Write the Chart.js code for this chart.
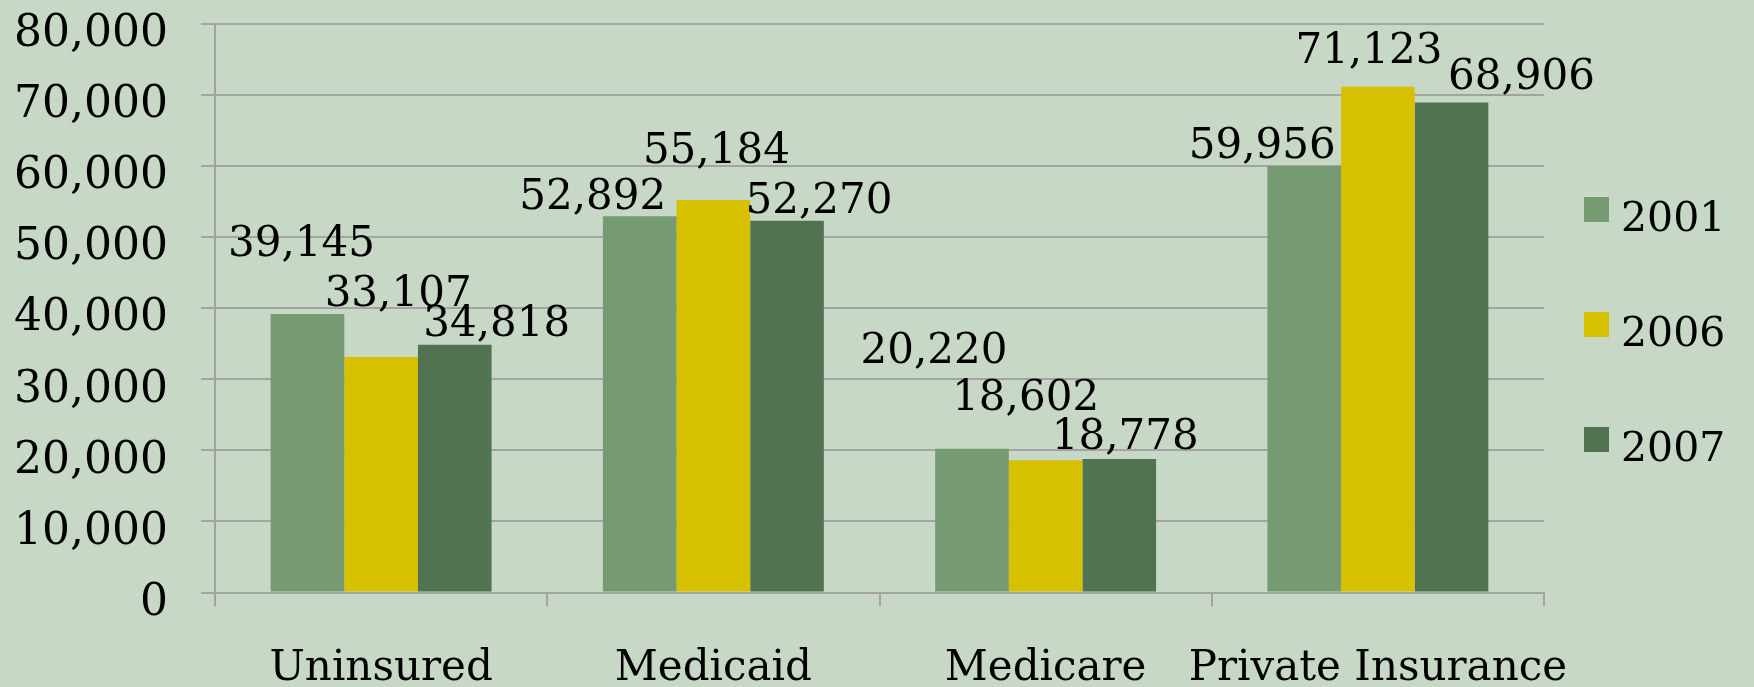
<!DOCTYPE html>
<html>
<head>
<meta charset="utf-8">
<script src="https://cdn.jsdelivr.net/npm/chart.js@4/dist/chart.umd.min.js"></script>
<style>
  html, body { margin: 0; padding: 0; background: #c7d9c6; }
  canvas { display: block; }
</style>
</head>
<body>
<canvas id="chart" width="1754" height="687"></canvas>
<script>
let categories = ['Uninsured', 'Medicaid', 'Medicare', 'Private Insurance'];
let years = ['2001', '2006', '2007'];
let values2001 = [39145, 52892, 20220, 59956];
let values2006 = [33107, 55184, 18602, 71123];
let values2007 = [34818, 52270, 18778, 68906];
let yTicks = [0, 10000, 20000, 30000, 40000, 50000, 60000, 70000, 80000];

let colors = ['#769b73', '#d6c000', '#517352'];
// hand-placed label nudges (dx, dy to baseline) like the original slide
let nudges = [
    [[-6, -58], [-47, -7], [-38, -86], [-42, -8]],
    [[17, -51], [3, -37], [-20, -50], [-9, -24]],
    [[42, -9], [32, -8], [6, -10], [70, -13]],
];

const font = 'DejaVu Serif';
const gridColor = '#a3a3a3';

let labelPlugin = {
    id: 'labels',
    beforeDraw(chart) {
        let c = chart.ctx;
        c.save();
        c.fillStyle = '#c7d9c6';
        c.fillRect(0, 0, chart.width, chart.height);
        c.restore();
    },
    afterDatasetsDraw(chart) {
        let c = chart.ctx;
        c.save();
        c.font = '42px "' + font + '"';
        c.fillStyle = '#000';
        c.textAlign = 'center';
        c.textBaseline = 'alphabetic';
        chart.data.datasets.forEach((ds, i) => {
            chart.getDatasetMeta(i).data.forEach((bar, j) => {
                let n = nudges[i][j];
                c.fillText(ds.data[j].toLocaleString('en-US'), bar.x + n[0], bar.y + n[1]);
            });
        });
        c.restore();
    },
    afterDraw(chart) {
        // legend on the right
        let c = chart.ctx;
        let x = chart.chartArea.right + 40;
        c.save();
        c.font = '41px "' + font + '"';
        c.textAlign = 'left';
        c.textBaseline = 'alphabetic';
        chart.data.datasets.forEach((ds, i) => {
            let top = 197 + i * 115;
            c.fillStyle = ds.backgroundColor;
            c.fillRect(x, top, 25, 25);
            c.fillStyle = '#000';
            c.fillText(ds.label, x + 37, top + 34);
        });
        c.restore();
    },
};

new Chart(document.getElementById('chart'), {
    type: 'bar',
    data: {
        labels: categories,
        datasets: [
            { label: years[0], data: values2001, backgroundColor: colors[0] },
            { label: years[1], data: values2006, backgroundColor: colors[1] },
            { label: years[2], data: values2007, backgroundColor: colors[2] },
        ],
    },
    options: {
        responsive: false,
        animation: false,
        devicePixelRatio: 1,
        categoryPercentage: 0.665,
        barPercentage: 1,
        layout: {
            padding: { top: 23.5, right: 210, bottom: 0, left: 0 },
        },
        scales: {
            x: {
                grid: {
                    offset: true,
                    drawOnChartArea: false,
                    tickLength: 14,
                    color: gridColor,
                    lineWidth: 2,
                },
                border: { color: gridColor, width: 2 },
                ticks: {
                    color: '#000',
                    padding: 37,
                    maxRotation: 0,
                    autoSkip: false,
                    font: { family: font, size: 42 },
                },
                afterFit(scale) {
                    scale.height = 94.5;
                    scale.paddingLeft = 0;
                    scale.paddingRight = 0;
                },
            },
            y: {
                min: 0,
                max: 80000,
                afterBuildTicks(scale) {
                    scale.ticks = yTicks.map(v => ({ value: v }));
                },
                grid: {
                    tickLength: 14,
                    color: gridColor,
                    lineWidth: 2,
                },
                border: { color: gridColor, width: 2 },
                ticks: {
                    color: '#000',
                    padding: 33,
                    labelOffset: 11,
                    font: { family: font, size: 44, lineHeight: 1 },
                    callback: v => v.toLocaleString('en-US'),
                },
                afterFit(scale) {
                    scale.width = 215;
                    scale.paddingTop = 0;
                    scale.paddingBottom = 0;
                },
            },
        },
        plugins: {
            legend: { display: false },
            tooltip: { enabled: false },
        },
    },
    plugins: [labelPlugin],
});
</script>
</body>
</html>
